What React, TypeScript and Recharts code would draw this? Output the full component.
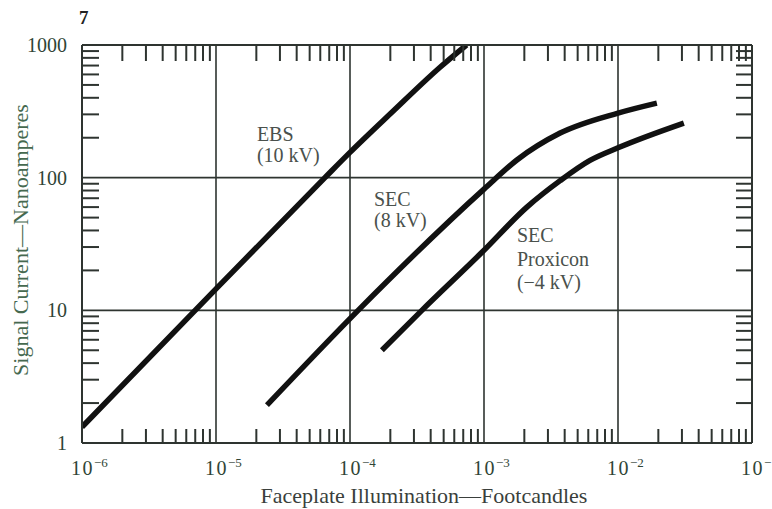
import React from "react";
import { LineChart, Line, XAxis, YAxis, ReferenceLine, ReferenceDot, Label } from "recharts";

// ---- data ----
const ebs = [
  { x: 1e-6, y: 1.32 },
  { x: 1e-5, y: 14.5 },
  { x: 6.5e-5, y: 100 },
  { x: 1e-4, y: 155 },
  { x: 2e-4, y: 303 },
  { x: 4.7e-4, y: 680 },
  { x: 7.4e-4, y: 1000 },
];
const sec8 = [
  { x: 2.4e-5, y: 1.93 },
  { x: 1.15e-4, y: 10 },
  { x: 1e-3, y: 82 },
  { x: 1.76e-3, y: 136 },
  { x: 3.7e-3, y: 217 },
  { x: 1e-2, y: 307 },
  { x: 1.95e-2, y: 365 },
];
const proxicon = [
  { x: 1.73e-4, y: 5.0 },
  { x: 3.44e-4, y: 10 },
  { x: 9.7e-4, y: 27.5 },
  { x: 2.09e-3, y: 60 },
  { x: 3.7e-3, y: 95 },
  { x: 6.18e-3, y: 135 },
  { x: 1e-2, y: 168 },
  { x: 3.1e-2, y: 258 },
];

const xDecades = [1e-6, 1e-5, 1e-4, 1e-3, 1e-2, 1e-1];
const xDecadeExps = ["−6", "−5", "−4", "−3", "−2", "−1"];
const yDecades = [1, 10, 100, 1000];
const yDecadeLabels = ["1", "10", "100", "1000"];
const minorMultipliers = [2, 3, 4, 5, 6, 7, 8, 9];
const xGrid = [1e-5, 1e-4, 1e-3, 1e-2];
const yGrid = [10, 100];

const curveNotes = [
  { x: 2.02e-5, y: 189, lines: ["EBS", "(10 kV)"] },
  { x: 1.51e-4, y: 61, lines: ["SEC", "(8 kV)"] },
  { x: 1.76e-3, y: 32.7, lines: ["SEC", "Proxicon", "(−4 kV)"] },
];

const pageTag = "7";
const xTitle = "Faceplate Illumination—Footcandles";
const yTitle = "Signal Current—Nanoamperes";

// ---- derived tick lists ----
function withMinors(decades: number[]) {
  const out: number[] = [];
  decades.forEach((d, i) => {
    out.push(d);
    if (i < decades.length - 1) minorMultipliers.forEach((m) => out.push(m * d));
  });
  return out;
}
const xTicks = withMinors(xDecades);
const yTicks = withMinors(yDecades);
const isDecade = (v: number) => Math.abs(Math.log10(v) - Math.round(Math.log10(v))) < 1e-9;
const decadeIndex = (arr: number[], v: number) =>
  arr.findIndex((d) => Math.abs(Math.log10(d) - Math.log10(v)) < 1e-9);

const FONT = "'Liberation Serif', 'Times New Roman', serif";
const AXIS = "#2e3430";
const TICK_TEXT = "#2f4536";
const TICK_LEN_X = 14;
const TICK_LEN_Y = 17;

const BottomTick = (p: any) => {
  const { x, y, payload } = p;
  const v = payload.value;
  if (!isDecade(v)) {
    return <line x1={x} x2={x} y1={y} y2={y - TICK_LEN_X} stroke={AXIS} strokeWidth={2} />;
  }
  const i = decadeIndex(xDecades, v);
  return (
    <text x={x - 11} y={y + 32} textAnchor="start" fontFamily={FONT} fontSize={20} fill={TICK_TEXT} letterSpacing={1.5}>
      <tspan>10</tspan>
      <tspan dy={-8} fontSize={13} letterSpacing={0}>{xDecadeExps[i]}</tspan>
    </text>
  );
};
const TopTick = (p: any) => {
  const { x, y, payload } = p;
  if (isDecade(payload.value)) return <g />;
  return <line x1={x} x2={x} y1={y} y2={y + TICK_LEN_X + 2} stroke={AXIS} strokeWidth={2} />;
};
const LeftTick = (p: any) => {
  const { x, y, payload } = p;
  const v = payload.value;
  if (!isDecade(v)) {
    return <line x1={x} x2={x + TICK_LEN_Y} y1={y} y2={y} stroke={AXIS} strokeWidth={2} />;
  }
  const i = decadeIndex(yDecades, v);
  return (
    <text x={x - 15} y={y + 7} textAnchor="end" fontFamily={FONT} fontSize={20} fill={TICK_TEXT}>
      {yDecadeLabels[i]}
    </text>
  );
};
const RightTick = (p: any) => {
  const { x, y, payload } = p;
  if (isDecade(payload.value)) return <g />;
  return <line x1={x} x2={x - 16} y1={y} y2={y} stroke={AXIS} strokeWidth={2} />;
};

const noteLineHeights = [21, 21, 23.5];

export default function App() {
  return (
    <div style={{ position: "absolute", left: 0, top: 0, width: 772, height: 509, background: "#fff" }}>
      <LineChart width={772} height={509} margin={{ top: 0, right: 0, bottom: 0, left: 0 }}>
        <XAxis
          xAxisId="b"
          dataKey="x"
          type="number"
          scale="log"
          domain={[1e-6, 1e-1]}
          allowDataOverflow
          ticks={xTicks}
          interval={0}
          tickSize={0}
          tickMargin={0}
          height={66}
          axisLine={{ stroke: AXIS, strokeWidth: 2 }}
          tickLine={false}
          tick={<BottomTick />}
        >
          <Label
            content={(lp: any) => {
              const vb = lp.viewBox;
              return (
                <text x={vb.x + vb.width / 2 + 7} y={503} textAnchor="middle" fontFamily={FONT} fontSize={22} fill="#3a3f3c">
                  {xTitle}
                </text>
              );
            }}
          />
        </XAxis>
        <XAxis
          xAxisId="t"
          dataKey="x"
          type="number"
          orientation="top"
          scale="log"
          domain={[1e-6, 1e-1]}
          allowDataOverflow
          ticks={xTicks}
          interval={0}
          tickSize={0}
          tickMargin={0}
          height={45}
          axisLine={{ stroke: AXIS, strokeWidth: 2 }}
          tickLine={false}
          tick={<TopTick />}
        >
          <Label
            content={() => (
              <text x={79} y={24} fontFamily={FONT} fontSize={19} fontWeight="bold" fill="#222">
                {pageTag}
              </text>
            )}
          />
        </XAxis>
        <YAxis
          yAxisId="l"
          type="number"
          scale="log"
          domain={[1, 1000]}
          allowDataOverflow
          ticks={yTicks}
          interval={0}
          tickSize={0}
          tickMargin={0}
          width={82}
          axisLine={{ stroke: AXIS, strokeWidth: 2 }}
          tickLine={false}
          tick={<LeftTick />}
        >
          <Label
            content={(lp: any) => {
              const vb = lp.viewBox;
              const cy = vb.y + vb.height / 2 - 4;
              return (
                <text
                  x={28}
                  y={cy}
                  transform={`rotate(-90, 28, ${cy})`}
                  textAnchor="middle"
                  fontFamily={FONT}
                  fontSize={22}
                  fill="#46694f"
                >
                  {yTitle}
                </text>
              );
            }}
          />
        </YAxis>
        <YAxis
          yAxisId="r"
          type="number"
          orientation="right"
          scale="log"
          domain={[1, 1000]}
          allowDataOverflow
          ticks={yTicks}
          interval={0}
          tickSize={0}
          tickMargin={0}
          width={20}
          axisLine={{ stroke: AXIS, strokeWidth: 2 }}
          tickLine={false}
          tick={<RightTick />}
        />

        {xGrid.map((v) => (
          <ReferenceLine key={"gx" + v} x={v} xAxisId="b" yAxisId="l" stroke={AXIS} strokeWidth={1.6} />
        ))}
        {yGrid.map((v) => (
          <ReferenceLine key={"gy" + v} y={v} xAxisId="b" yAxisId="l" stroke={AXIS} strokeWidth={1.6} />
        ))}

        {[ebs, sec8, proxicon].map((d, i) => (
          <Line
            key={"s" + i}
            data={d}
            dataKey="y"
            xAxisId="b"
            yAxisId="l"
            type="monotone"
            stroke="#111"
            strokeWidth={5.5}
            dot={false}
            activeDot={false}
            isAnimationActive={false}
          />
        ))}

        {curveNotes.map((n, i) => (
          <ReferenceDot
            key={"n" + i}
            x={n.x}
            y={n.y}
            xAxisId="b"
            yAxisId="l"
            r={1}
            fill="none"
            stroke="none"
            label={{
              content: (lp: any) => {
                const vb = lp.viewBox;
                const x0 = vb.x + vb.width / 2;
                const y0 = vb.y + vb.height / 2;
                return (
                  <text fontFamily={FONT} fontSize={20} fill="#4a514c">
                    {n.lines.map((t, k) => (
                      <tspan key={k} x={x0} y={y0 + k * noteLineHeights[i]}>
                        {t}
                      </tspan>
                    ))}
                  </text>
                );
              },
            }}
          />
        ))}
      </LineChart>
    </div>
  );
}
